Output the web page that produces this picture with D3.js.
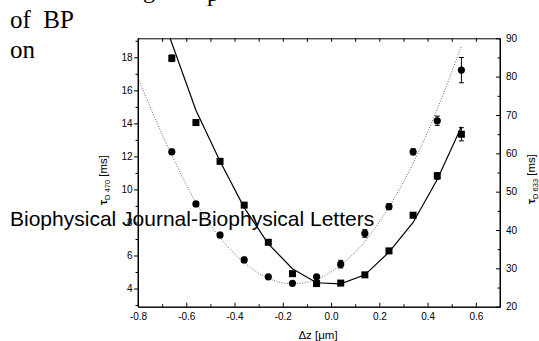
<!DOCTYPE html>
<html>
<head>
<meta charset="utf-8">
<script src="https://cdn.jsdelivr.net/npm/d3@7"></script>
<style>
  body { margin: 0; background: #fff; }
  svg { display: block; }
  .tick text { font-family: "Liberation Sans", Arial, sans-serif; font-size: 10px; fill: #000; }
  .domain, .tick line { stroke: #000; stroke-width: 1; }
</style>
</head>
<body>
<div id="chart"></div>
<script>
// valeurs
var zVals = [-0.66, -0.56, -0.46, -0.36, -0.26, -0.16, -0.06, 0.04, 0.14, 0.24, 0.34, 0.44, 0.54];
var tau470 = [17.94, 14.05, 11.7, 9.05, 6.8, 4.9, 4.3, 4.33, 4.83, 6.28, 8.44, 10.82, 13.34];
var tau470Err = [0.2, 0.12, 0.1, 0.1, 0.1, 0.1, 0.08, 0.08, 0.1, 0.1, 0.15, 0.2, 0.4];
var tau633 = [60.4, 46.8, 38.7, 32.2, 27.8, 26.1, 27.8, 31.1, 39.1, 46.1, 60.4, 68.5, 81.7];
var tau633Err = [0.7, 0.6, 0.7, 0.7, 0.5, 0.5, 0.5, 1.0, 1.0, 0.8, 0.8, 1.2, 3.3];

// courbes d'ajustement
var fit470Z = [-0.667, -0.56, -0.46, -0.36, -0.26, -0.16, -0.06, 0.04, 0.14, 0.24, 0.34, 0.44, 0.54];
var fit470 = [19.15, 14.8, 11.7, 8.9, 6.7, 5.2, 4.35, 4.28, 4.83, 6.2, 8.0, 10.6, 13.8];
var fit633Z = [-0.8, -0.66, -0.56, -0.46, -0.36, -0.26, -0.16, -0.06, 0.04, 0.14, 0.24, 0.34, 0.44, 0.54];
var fit633 = [79.6, 59.5, 47.2, 38.0, 31.5, 27.4, 26.0, 27.1, 30.9, 37.0, 46.0, 57.4, 71.5, 88.0];

// graduations
var xTicks = [-0.8, -0.6, -0.4, -0.2, 0.0, 0.2, 0.4, 0.6];
var xMinor = [-0.7, -0.5, -0.3, -0.1, 0.1, 0.3, 0.5];
var leftTicks = [4, 6, 8, 10, 12, 14, 16, 18];
var leftMinor = [3, 5, 7, 9, 11, 13, 15, 17, 19];
var rightTicks = [20, 30, 40, 50, 60, 70, 80, 90];
var rightMinor = [25, 35, 45, 55, 65, 75, 85];

var width = 539, height = 341;
var pLeft = 138, pRight = 500, pTop = 38.3, pBottom = 306.7;

var svg = d3.select("#chart").append("svg")
  .attr("width", width)
  .attr("height", height);

var x = d3.scaleLinear().domain([-0.8, 0.7]).range([pLeft, pRight]);
var yL = d3.scaleLinear().domain([2.9, 19.15]).range([pBottom, pTop]);
var yR = d3.scaleLinear().domain([20, 90]).range([pBottom, pTop]);

// texte de la page derrière la figure (coupé en haut)
var serif = '"Liberation Serif", "Times New Roman", serif';
svg.append("text").attr("x", 143).attr("y", -2.5).style("font-family", serif).style("font-size", "24px").text("g");
svg.append("text").attr("x", 207).attr("y", 1).style("font-family", serif).style("font-size", "24px").text("p");
svg.append("text").attr("x", 10).attr("y", 28.3).style("font-family", serif).style("font-size", "25px").attr("xml:space", "preserve").text("of  BP");
svg.append("text").attr("x", 10).attr("y", 58.3).style("font-family", serif).style("font-size", "25px").text("on");

// axes
function fmt(d) { return d.toFixed(1); }

svg.append("g").attr("transform", "translate(0," + pBottom + ")")
  .call(d3.axisBottom(x).tickValues(xTicks).tickSize(-4).tickSizeOuter(0).tickPadding(6).tickFormat(fmt));
svg.append("g").attr("transform", "translate(0," + pBottom + ")")
  .call(d3.axisBottom(x).tickValues(xMinor).tickSize(-2.5).tickSizeOuter(0).tickFormat(""));
svg.append("g").attr("transform", "translate(0," + pTop + ")")
  .call(d3.axisTop(x).tickValues(xTicks.concat(xMinor)).tickSize(-3.5).tickSizeOuter(0).tickFormat(""));

svg.append("g").attr("transform", "translate(" + pLeft + ",0)")
  .call(d3.axisLeft(yL).tickValues(leftTicks).tickSize(4).tickSizeOuter(0).tickPadding(1.5));
svg.append("g").attr("transform", "translate(" + pLeft + ",0)")
  .call(d3.axisLeft(yL).tickValues(leftMinor).tickSize(2.5).tickSizeOuter(0).tickFormat(""));

svg.append("g").attr("transform", "translate(" + pRight + ",0)")
  .call(d3.axisRight(yR).tickValues(rightTicks).tickSize(-4).tickSizeOuter(0).tickPadding(6));
svg.append("g").attr("transform", "translate(" + pRight + ",0)")
  .call(d3.axisRight(yR).tickValues(rightMinor).tickSize(-2.5).tickSizeOuter(0).tickFormat(""));

// cadre complet
svg.append("line").attr("x1", pLeft).attr("x2", pLeft).attr("y1", pTop).attr("y2", pBottom).attr("stroke", "#000");
svg.append("line").attr("x1", pRight).attr("x2", pRight).attr("y1", pTop).attr("y2", pBottom).attr("stroke", "#000");

svg.append("clipPath").attr("id", "clip")
  .append("rect").attr("x", pLeft).attr("y", pTop).attr("width", pRight - pLeft).attr("height", pBottom - pTop);

// courbes
var line470 = d3.line()
  .x(function(d) { return x(d[0]); })
  .y(function(d) { return yL(d[1]); });
var line633 = d3.line()
  .curve(d3.curveMonotoneX)
  .x(function(d) { return x(d[0]); })
  .y(function(d) { return yR(d[1]); });

svg.append("path")
  .datum(d3.zip(fit633Z, fit633))
  .attr("clip-path", "url(#clip)")
  .attr("fill", "none")
  .attr("stroke", "#666")
  .attr("stroke-width", 1)
  .attr("stroke-dasharray", "1,1.6")
  .attr("d", line633);

svg.append("path")
  .datum(d3.zip(fit470Z, fit470))
  .attr("clip-path", "url(#clip)")
  .attr("fill", "none")
  .attr("stroke", "#000")
  .attr("stroke-width", 1.2)
  .attr("d", line470);

// barres d'erreur
function errorBars(vals, errs, y) {
  var g = svg.append("g").attr("stroke", "#000").attr("stroke-width", 1);
  zVals.forEach(function(z, i) {
    var y1 = y(vals[i] - errs[i]), y2 = y(vals[i] + errs[i]);
    g.append("line").attr("x1", x(z)).attr("x2", x(z)).attr("y1", y1).attr("y2", y2);
    g.append("line").attr("x1", x(z) - 2.5).attr("x2", x(z) + 2.5).attr("y1", y1).attr("y2", y1);
    g.append("line").attr("x1", x(z) - 2.5).attr("x2", x(z) + 2.5).attr("y1", y2).attr("y2", y2);
  });
}
errorBars(tau633, tau633Err, yR);
errorBars(tau470, tau470Err, yL);

// points
svg.append("g").selectAll("circle")
  .data(d3.zip(zVals, tau633))
  .enter().append("circle")
  .attr("cx", function(d) { return x(d[0]); })
  .attr("cy", function(d) { return yR(d[1]); })
  .attr("r", 3.6)
  .attr("fill", "#000");

svg.append("g").selectAll("rect")
  .data(d3.zip(zVals, tau470))
  .enter().append("rect")
  .attr("x", function(d) { return x(d[0]) - 3.5; })
  .attr("y", function(d) { return yL(d[1]) - 3.5; })
  .attr("width", 7)
  .attr("height", 7)
  .attr("fill", "#000");

// titres des axes
var sans = '"Liberation Sans", Arial, sans-serif';
function axisTitle(xPos, yPos, sub) {
  var t = svg.append("text")
    .attr("transform", "translate(" + xPos + "," + yPos + ") rotate(-90)")
    .attr("text-anchor", "middle")
    .style("font-family", sans)
    .style("font-size", "11.5px");
  t.append("tspan").style("font-weight", "bold").text("\u03c4");
  t.append("tspan").attr("dy", 2.5).style("font-size", "7.5px").text("D " + sub);
  t.append("tspan").attr("dy", -2.5).text(" [ms]");
}
axisTitle(107, 180, "470");
axisTitle(535, 179, "633");

svg.append("text")
  .attr("x", 318).attr("y", 339)
  .attr("text-anchor", "middle")
  .style("font-family", sans)
  .style("font-size", "11.5px")
  .text("\u0394z [\u03bcm]");

// bandeau de la revue par-dessus
svg.append("text")
  .attr("x", 10).attr("y", 225.5)
  .style("font-family", sans)
  .style("font-size", "21px")
  .text("Biophysical Journal-Biophysical Letters");
</script>
</body>
</html>
